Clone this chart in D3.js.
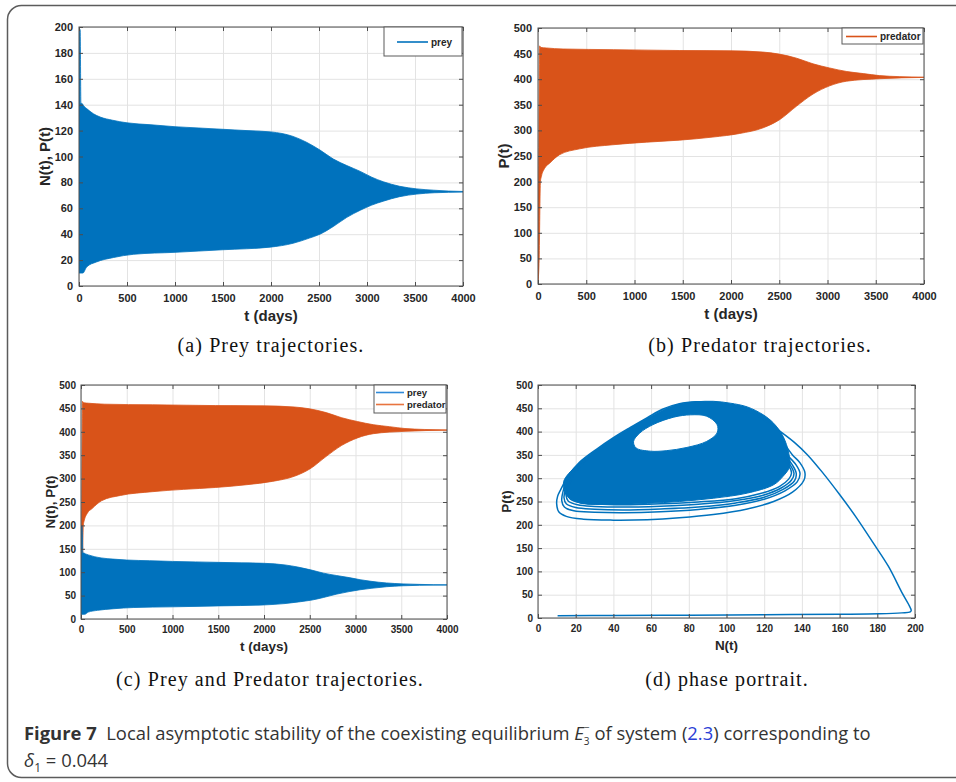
<!DOCTYPE html>
<html>
<head>
<meta charset="utf-8">
<script src="https://cdn.jsdelivr.net/npm/d3@7/dist/d3.min.js"></script>
<style>
    body { margin: 0; background: #fff; }
    .axis text { font-family: "Liberation Sans", Arial, sans-serif; font-weight: bold; fill: #262626; }
    .axis path.domain { display: none; }
    .axis line { stroke: #4d4d4d; }
    .grid line { stroke: #e3e3e3; stroke-width: 1; }
    .grid path.domain { display: none; }
    .label { font-family: "Liberation Sans", Arial, sans-serif; font-weight: bold; fill: #262626; }
    .legend text { font-family: "Liberation Sans", Arial, sans-serif; font-weight: bold; fill: #262626; }
    .sub-caption { font-family: "Liberation Serif", "Times New Roman", serif; fill: #111; letter-spacing: 1.1px; }
    .fig-caption { font-family: "Liberation Sans Narrow", "Open Sans", sans-serif; fill: #333; }
</style>
</head>
<body>
<div id="figure"></div>
<script>
// ---- data ----
var timeTicks = [0, 500, 1000, 1500, 2000, 2500, 3000, 3500, 4000];
var preyTicks = [0, 20, 40, 60, 80, 100, 120, 140, 160, 180, 200];
var popTicks = [0, 50, 100, 150, 200, 250, 300, 350, 400, 450, 500];
var nTicks = [0, 20, 40, 60, 80, 100, 120, 140, 160, 180, 200];

// envelope of the prey oscillations: [t, N]
var preyUpper = [[0, 10], [6, 198], [12, 198], [20, 141], [30, 141], [50, 139], [80, 137], [150, 133],
    [220, 130.5], [350, 128], [500, 126], [750, 124.5], [1000, 123], [1250, 122], [1500, 121],
    [1750, 120], [2000, 119], [2230, 115.5], [2370, 111], [2510, 105], [2650, 98], [2790, 93],
    [2930, 88.5], [3050, 84], [3170, 80.5], [3340, 77], [3520, 75], [3690, 74], [3850, 73.3], [4000, 73]];
var preyLower = [[0, 10], [40, 10], [80, 14.7], [180, 18.5], [360, 22], [570, 24.5], [1000, 26],
    [1500, 28], [1990, 30], [2230, 33], [2400, 37], [2510, 40], [2650, 46], [2790, 53], [2930, 58.5],
    [3050, 62.5], [3170, 65.5], [3340, 69], [3520, 71], [3700, 72], [4000, 72.5]];

// envelope of the predator oscillations: [t, P]
var predUpper = [[0, 5], [10, 300], [17, 465], [30, 462], [86, 461], [260, 459], [780, 457.7],
    [1470, 456], [1990, 455.5], [2330, 453], [2500, 449], [2680, 441], [2850, 430], [3020, 422],
    [3200, 415], [3370, 411], [3540, 407], [3750, 405], [4000, 404]];
var predLower = [[0, 5], [12, 50], [25, 200], [35, 210], [69, 226], [121, 236], [224, 252.6],
    [432, 264], [777, 272], [1123, 277], [1468, 281], [1813, 287], [2090, 294], [2332, 305],
    [2504, 321], [2677, 347], [2850, 371], [3022, 387], [3195, 396], [3541, 401], [4000, 403.5]];

// phase portrait: [N, P]
var transient = [[10.4, 5], [40, 5.5], [80, 6], [120, 7], [160, 8], [181, 9], [193, 11], [197.5, 13],
    [198, 16], [196.5, 30], [193, 55], [186, 110], [178, 160], [169, 215], [160, 265], [151, 312],
    [143, 350], [136, 377], [128, 402], [119, 428], [110, 447], [101, 458], [92, 463], [84, 464], [75, 460],
    [66, 448], [58, 430], [49, 409], [40, 387], [31, 362], [22, 334], [16, 305],
    [12, 275], [10.4, 261], [9.9, 245], [11, 228], [15, 218], [24, 212], [40, 210], [58, 211], [75, 215],
    [93, 222], [111, 234], [125, 250], [135, 270], [141, 295], [141.6, 312], [139, 333], [135, 350], [131, 372]];
var loop2 = [[24, 338], [16, 300], [13.2, 270], [12.6, 252], [14, 238], [19, 230], [30, 227], [45, 226],
    [65, 228], [85, 233], [105, 242], [120, 255], [131, 273], [137.5, 292], [139, 310], [137, 328], [132, 350]];
var loop3 = [[25, 340], [17, 302], [14.5, 275], [13.8, 258], [15, 245], [20, 237], [30, 233.5], [45, 232],
    [65, 234], [85, 238], [105, 247], [120, 259], [130, 276], [136, 294], [137, 310], [135, 328], [131, 348]];
var loop4 = [[26, 342], [18, 305], [15.5, 280], [14.9, 263], [16, 251], [21, 243], [30, 239.5], [45, 238],
    [65, 240], [85, 244], [105, 252], [119, 263], [129, 279], [134.5, 296], [135.8, 310], [134, 327], [130, 346]];
var loop5 = [[27, 344], [19, 308], [16.5, 285], [16, 268], [17, 256], [22, 248], [31, 244.5], [45, 243],
    [65, 245], [85, 249], [105, 256], [118, 267], [128, 282], [133, 298], [134.5, 311], [133, 327], [129, 345]];
var bandOuter = [[14, 297], [22, 333], [31, 361], [40, 386], [49, 408], [58, 429], [66.5, 447], [75, 459],
    [84, 464], [93, 465], [102, 461], [111, 453], [119.5, 436], [125, 418], [130, 390], [133, 354],
    [133.5, 325], [130, 304], [125, 286], [111, 268], [93, 257], [75, 250], [58, 246], [40, 244],
    [22, 247], [15.5, 261], [13.6, 283]];
var bandHole = [[50.7, 379], [54, 397], [61, 415], [72, 431], [81, 436], [89.5, 433], [95, 415],
    [95, 397], [89.5, 379], [79, 366], [68, 359], [59.5, 358], [52, 365]];

var blue = "#0072bd", orange = "#d95319";

var svg = d3.select("#figure").append("svg")
    .attr("width", 956)
    .attr("height", 782);

// rounded frame around the figure
svg.append("rect")
    .attr("x", 7.5).attr("y", 5.5)
    .attr("width", 980).attr("height", 772)
    .attr("rx", 14)
    .attr("fill", "none")
    .attr("stroke", "#5c5c5c")
    .attr("stroke-width", 1.5);

// ---- generic MATLAB-like axes ----
Panel = function(_svg, _config) {
    this.svg = _svg;
    this.config = _config;
    this.initVis();
}

Panel.prototype.initVis = function() {
    var vis = this, c = vis.config;

    vis.width = c.width;
    vis.height = c.height;
    vis.g = vis.svg.append("g")
        .attr("transform", "translate(" + c.left + "," + c.top + ")");

    vis.x = d3.scaleLinear().domain(c.xDomain).range([0, vis.width]);
    vis.y = d3.scaleLinear().domain(c.yDomain).range([vis.height, 0]);

    // grid lines
    vis.g.append("g")
        .attr("class", "grid")
        .attr("transform", "translate(0," + vis.height + ")")
        .call(d3.axisBottom(vis.x).tickValues(c.xTicks).tickSize(-vis.height).tickFormat(""));
    vis.g.append("g")
        .attr("class", "grid")
        .call(d3.axisLeft(vis.y).tickValues(c.yTicks).tickSize(-vis.width).tickFormat(""));

    vis.clipId = "clip" + Math.round(c.left) + "_" + Math.round(c.top);
    vis.g.append("clipPath").attr("id", vis.clipId)
        .append("rect").attr("width", vis.width).attr("height", vis.height);
    vis.plot = vis.g.append("g").attr("clip-path", "url(#" + vis.clipId + ")");
}

Panel.prototype.drawFrame = function() {
    var vis = this, c = vis.config;
    var fmt = d3.format("d");

    vis.g.append("rect")
        .attr("width", vis.width).attr("height", vis.height)
        .attr("fill", "none").attr("stroke", "#4d4d4d").attr("stroke-width", 1);

    var xAxis = vis.g.append("g")
        .attr("class", "axis")
        .attr("transform", "translate(0," + vis.height + ")")
        .call(d3.axisBottom(vis.x).tickValues(c.xTicks).tickSize(-4).tickPadding(c.xPad).tickFormat(fmt));
    xAxis.selectAll("text").style("font-size", c.tickFont + "px");
    vis.g.append("g").attr("class", "axis")
        .call(d3.axisTop(vis.x).tickValues(c.xTicks).tickSize(-4).tickFormat(""));

    var yAxis = vis.g.append("g")
        .attr("class", "axis")
        .call(d3.axisLeft(vis.y).tickValues(c.yTicks).tickSize(-4).tickPadding(c.yPad).tickFormat(fmt));
    yAxis.selectAll("text").style("font-size", c.tickFont + "px");
    vis.g.append("g").attr("class", "axis")
        .attr("transform", "translate(" + vis.width + ",0)")
        .call(d3.axisRight(vis.y).tickValues(c.yTicks).tickSize(-4).tickFormat(""));

    // axis titles
    vis.g.append("text")
        .attr("class", "label")
        .attr("x", vis.width / 2)
        .attr("y", vis.height + c.xLabelOffset)
        .attr("text-anchor", "middle")
        .style("font-size", c.labelFont + "px")
        .text(c.xLabel);
    vis.g.append("text")
        .attr("class", "label")
        .attr("transform", "translate(" + (-c.yLabelOffset) + "," + (vis.height / 2) + ") rotate(-90)")
        .attr("dy", "0.35em")
        .attr("text-anchor", "middle")
        .style("font-size", c.labelFont + "px")
        .text(c.yLabel);

    // legend
    if (c.legend) {
        var L = c.legend;
        var lg = vis.g.append("g")
            .attr("class", "legend")
            .attr("transform", "translate(" + (vis.width - L.width - 1) + ",0)");
        lg.append("rect")
            .attr("width", L.width).attr("height", L.height)
            .attr("fill", "#fff").attr("stroke", "#5a5a5a").attr("stroke-width", 1);
        L.items.forEach(function(item, i) {
            var yy = L.firstRow + i * L.rowStep;
            lg.append("line")
                .attr("x1", L.lineX).attr("x2", L.lineX + L.lineLen)
                .attr("y1", yy).attr("y2", yy)
                .attr("stroke", item.color).attr("stroke-width", 1.6);
            lg.append("text")
                .attr("x", L.lineX + L.lineLen + 3)
                .attr("y", yy)
                .attr("dy", "0.35em")
                .style("font-size", L.font + "px")
                .text(item.name);
        });
    }

    // sub-caption
    vis.svg.append("text")
        .attr("class", "sub-caption")
        .attr("x", c.caption.x).attr("y", c.caption.y)
        .attr("text-anchor", "middle")
        .style("font-size", "20px")
        .text(c.caption.text);
}

// oscillation band between the envelopes
Panel.prototype.drawBand = function(upper, lower, color) {
    var vis = this;
    var edge = d3.line()
        .x(function(d) { return vis.x(d[0]); })
        .y(function(d) { return vis.y(d[1]); })
        .curve(d3.curveMonotoneX);
    var d = edge(upper) + "L" + edge(lower.slice().reverse()).slice(1) + "Z";
    vis.plot.append("path")
        .attr("d", d)
        .attr("fill", color)
        .attr("stroke", color)
        .attr("stroke-width", 0.8);
}

Panel.prototype.drawPhase = function() {
    var vis = this;
    var ring = d3.line()
        .x(function(d) { return vis.x(d[0]); })
        .y(function(d) { return vis.y(d[1]); })
        .curve(d3.curveCatmullRomClosed);
    var open = d3.line()
        .x(function(d) { return vis.x(d[0]); })
        .y(function(d) { return vis.y(d[1]); })
        .curve(d3.curveCatmullRom);

    vis.plot.append("path")
        .attr("d", ring(bandOuter) + ring(bandHole))
        .attr("fill", blue)
        .attr("fill-rule", "evenodd")
        .attr("stroke", blue)
        .attr("stroke-width", 1);

    [loop5, loop4, loop3, loop2, transient].forEach(function(pts) {
        vis.plot.append("path")
            .attr("d", open(pts))
            .attr("fill", "none")
            .attr("stroke", blue)
            .attr("stroke-width", 1.5);
    });
}

// (a) prey
var panelA = new Panel(svg, {
    left: 79, top: 27, width: 384, height: 259,
    xDomain: [0, 4000], yDomain: [0, 200], xTicks: timeTicks, yTicks: preyTicks,
    tickFont: 11, labelFont: 15, xPad: 8, yPad: 6,
    xLabel: "t (days)", yLabel: "N(t), P(t)", xLabelOffset: 35, yLabelOffset: 34,
    legend: { width: 78, height: 29, lineX: 13, lineLen: 31, firstRow: 15, rowStep: 0, font: 10,
        items: [{ name: "prey", color: blue }] },
    caption: { x: 271, y: 352, text: "(a) Prey trajectories." }
});
panelA.drawBand(preyUpper, preyLower, blue);
panelA.drawFrame();

// (b) predator
var panelB = new Panel(svg, {
    left: 538, top: 28, width: 386, height: 256,
    xDomain: [0, 4000], yDomain: [0, 500], xTicks: timeTicks, yTicks: popTicks,
    tickFont: 11, labelFont: 15, xPad: 8, yPad: 6,
    xLabel: "t (days)", yLabel: "P(t)", xLabelOffset: 35, yLabelOffset: 34,
    legend: { width: 81, height: 16, lineX: 4, lineLen: 31, firstRow: 8.5, rowStep: 0, font: 10,
        items: [{ name: "predator", color: orange }] },
    caption: { x: 760, y: 352, text: "(b) Predator trajectories." }
});
panelB.drawBand(predUpper, predLower, orange);
panelB.drawFrame();

// (c) prey and predator
var panelC = new Panel(svg, {
    left: 81, top: 385, width: 366, height: 234,
    xDomain: [0, 4000], yDomain: [0, 500], xTicks: timeTicks, yTicks: popTicks,
    tickFont: 10, labelFont: 13.5, xPad: 7, yPad: 5,
    xLabel: "t (days)", yLabel: "N(t), P(t)", xLabelOffset: 32, yLabelOffset: 31,
    legend: { width: 72, height: 28, lineX: 2, lineLen: 28, firstRow: 7.5, rowStep: 12, font: 9.5,
        items: [{ name: "prey", color: "#2f8ad8" }, { name: "predator", color: "#e8743f" }] },
    caption: { x: 270, y: 686, text: "(c) Prey and Predator trajectories." }
});
panelC.drawBand(predUpper, predLower, orange);
panelC.drawBand(preyUpper, preyLower, blue);
panelC.drawFrame();

// (d) phase portrait
var panelD = new Panel(svg, {
    left: 538, top: 385, width: 377, height: 233,
    xDomain: [0, 200], yDomain: [0, 500], xTicks: nTicks, yTicks: popTicks,
    tickFont: 10, labelFont: 13.5, xPad: 7, yPad: 5,
    xLabel: "N(t)", yLabel: "P(t)", xLabelOffset: 32, yLabelOffset: 32,
    legend: null,
    caption: { x: 727, y: 686, text: "(d) phase portrait." }
});
panelD.drawPhase();
panelD.drawFrame();

// ---- figure caption ----
var cap1 = svg.append("text")
    .attr("class", "fig-caption")
    .attr("x", 24).attr("y", 740)
    .style("font-size", "18.4px");
cap1.append("tspan").style("font-weight", "bold").text("Figure 7");
cap1.append("tspan").text("\u00a0\u00a0Local asymptotic stability of the coexisting equilibrium ");
cap1.append("tspan").style("font-style", "italic").text("E");
cap1.append("tspan").attr("dy", 5).style("font-size", "10px").text("3");
cap1.append("tspan").attr("dx", -5.5).attr("dy", -14).style("font-size", "10px").text("\u2212");
cap1.append("tspan").attr("dy", 9).text(" of system (");
cap1.append("tspan").style("fill", "#2b3fd6").text("2.3");
cap1.append("tspan").text(") corresponding to");

var cap2 = svg.append("text")
    .attr("class", "fig-caption")
    .attr("x", 24).attr("y", 767)
    .style("font-size", "18.4px");
cap2.append("tspan").style("font-style", "italic").text("\u03b4");
cap2.append("tspan").attr("dy", 5).style("font-size", "12px").text("1");
cap2.append("tspan").attr("dy", -5).text(" = 0.044");
</script>
</body>
</html>
